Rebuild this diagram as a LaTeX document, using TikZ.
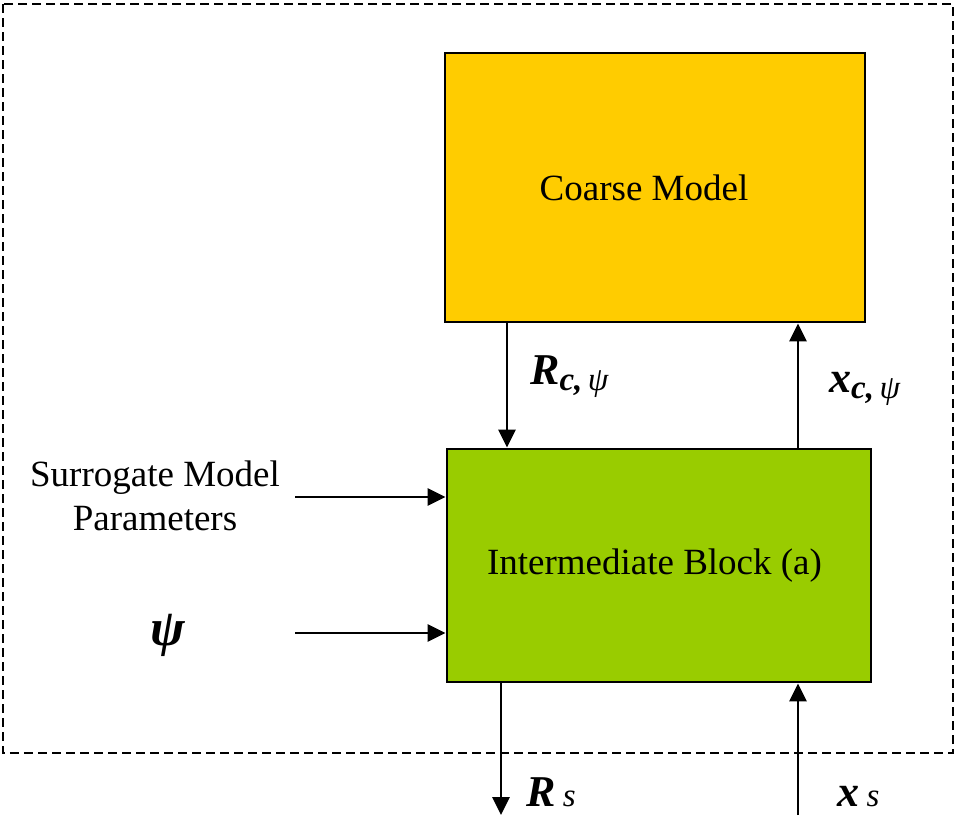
\documentclass[tikz,border=0pt]{standalone}
\usepackage{fontspec}
\setmainfont{Liberation Serif}
\usetikzlibrary{arrows.meta}
\definecolor{coarsefill}{HTML}{FFCC00}
\definecolor{interfill}{HTML}{99CC00}
\tikzset{
  blockbox/.style={draw=black, line width=2.8pt, inner sep=0pt, font=\fontsize{37}{44}\selectfont},
  arr/.style={line width=2.8pt, -{Triangle[length=18pt,width=17pt]}},
  lbl/.style={inner sep=0pt, font=\fontsize{37}{44}\selectfont},
  mlbl/.style={inner sep=0pt, anchor=base west, font=\fontsize{44}{48}\selectfont\bfseries\itshape},
}
\newcommand{\subsc}[1]{\raisebox{-0.3ex}{\fontsize{33}{35}\selectfont #1}}
\newcommand{\subsn}[1]{{\fontsize{33}{35}\selectfont #1}}
\begin{document}
\begin{tikzpicture}[x=1pt,y=-1pt]
\useasboundingbox (0,0) rectangle (956,817);
\draw[line width=2.2pt, dash pattern=on 9pt off 5pt] (3,4) rectangle (953,753);
\node[blockbox, fill=coarsefill, minimum width=420pt, minimum height=269pt] (coarse) at (655,187.5) {\hspace*{-22pt}Coarse Model};
\node[blockbox, fill=interfill, minimum width=424pt, minimum height=233pt] (inter) at (659,565.5) {\hspace*{-9pt}Intermediate Block (a)};
\coordinate (rcx) at (507,0);
\coordinate (xcx) at (798,0);
\draw[arr] (coarse.south -| rcx) -- (inter.north -| rcx);
\draw[arr] (inter.north -| xcx) -- (coarse.south -| xcx);
\coordinate (smp) at (295,497);
\coordinate (psi) at (295,633);
\draw[arr] (smp) -- (smp -| inter.west);
\draw[arr] (psi) -- (psi -| inter.west);
\coordinate (rsend) at (501,815);
\coordinate (xsstart) at (798,815);
\draw[arr] (inter.south -| rsend) -- (rsend);
\draw[arr] (xsstart) -- (inter.south -| xsstart);
\node[lbl, align=center] (smplbl) at (155,496) {Surrogate Model\\Parameters};
\node[mlbl, font=\fontsize{52}{56}\selectfont\bfseries\itshape] (psilbl) at (150,645) {ψ};
\node[mlbl] (rclbl) at (530,384) {R\subsc{c,\,\mdseries ψ}};
\node[mlbl] (xclbl) at (829,392) {x\subsc{c,\,\mdseries ψ}};
\node[mlbl] (rslbl) at (526,806) {R\,\subsn{\mdseries s}};
\node[mlbl] (xslbl) at (837,806) {x\,\subsn{\mdseries s}};
\end{tikzpicture}
\end{document}
